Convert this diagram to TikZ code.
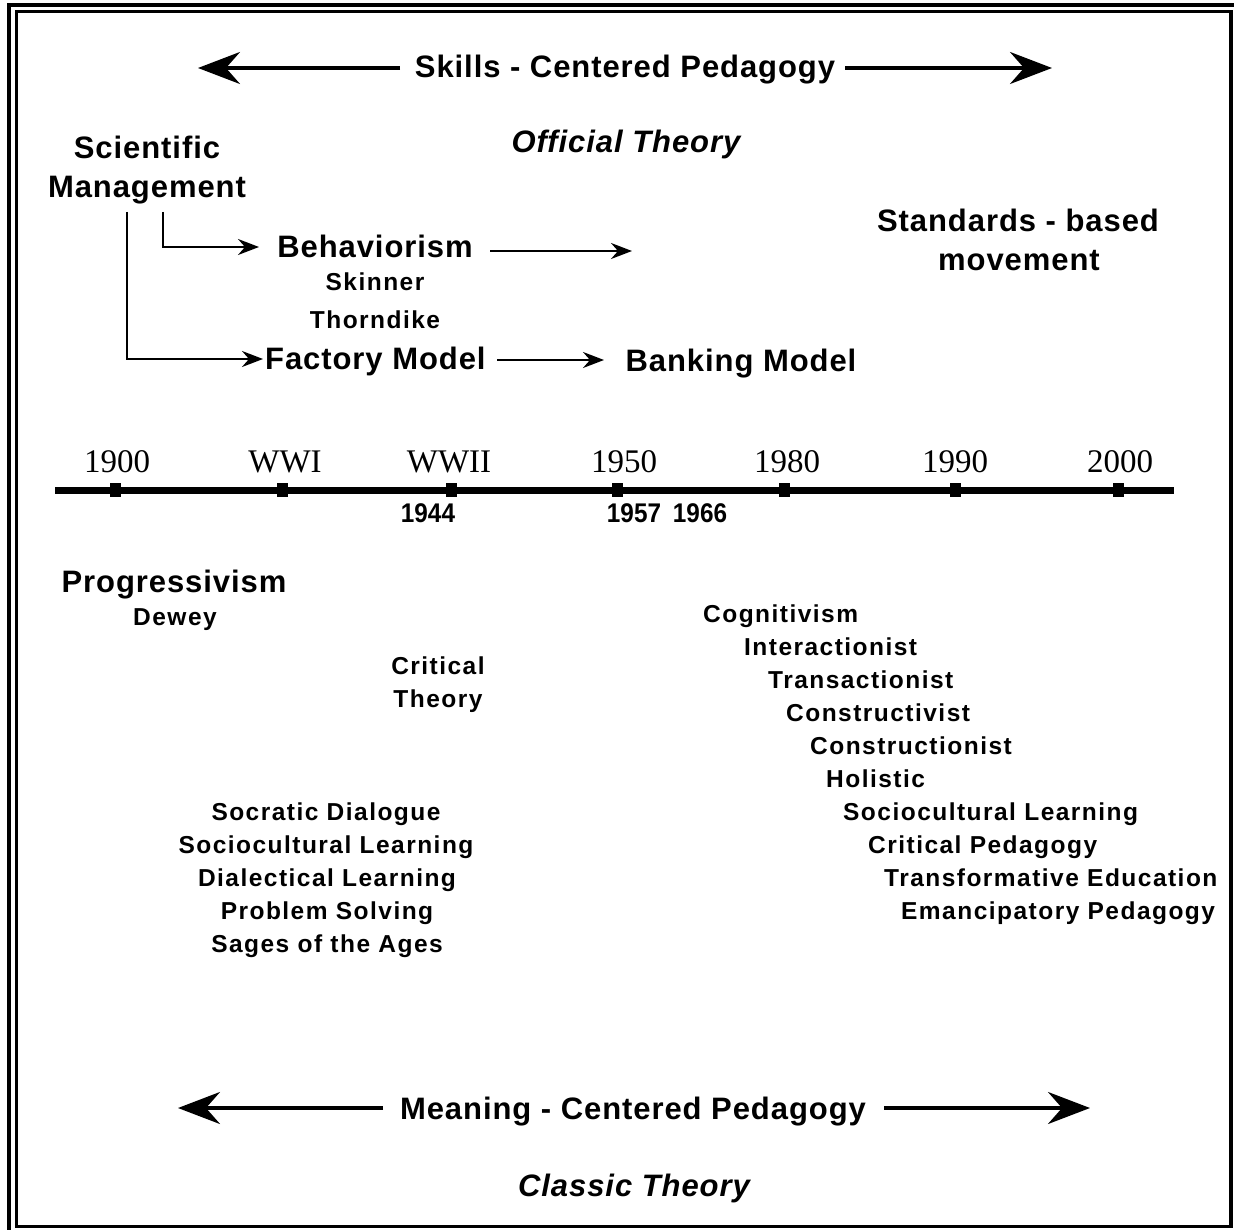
\documentclass[tikz,border=0pt]{standalone}
\usepackage{fontspec}
\setmainfont{Liberation Sans}
\newfontfamily\bigf{Liberation Sans}[LetterSpace=3]
\newfontfamily\smallf{Liberation Sans}[LetterSpace=6]
\newfontfamily\narrowf{Liberation Sans}
\newfontfamily\yearf{Liberation Serif}
\usetikzlibrary{arrows.meta}
\tikzset{
  big/.style={font=\bigf\bfseries\fontsize{31}{37}\selectfont, inner sep=0pt, align=center},
  bigit/.style={font=\bigf\bfseries\itshape\fontsize{31}{37}\selectfont, inner sep=0pt},
  small/.style={font=\smallf\bfseries\fontsize{24.5}{33}\selectfont, inner sep=0pt, align=center},
  yearlab/.style={font=\yearf\fontsize{33}{38}\selectfont, inner sep=0pt},
  sublab/.style={font=\narrowf\bfseries\fontsize{27}{30}\selectfont, inner sep=0pt},
  bigarr/.style={line width=3.5pt, -{Stealth[length=42pt,width=32pt,inset=14pt]}},
  smallarr/.style={line width=2.3pt, -{Stealth[length=21pt,width=16pt,inset=7pt]}},
  tickmark/.style={fill=black},
}
\begin{document}
\begin{tikzpicture}[x=1pt,y=-1pt]
\useasboundingbox (0,0) rectangle (1234,1230);
\fill[white] (0,0) rectangle (1234,1230);
% frame
\draw[line width=4pt] (9,1230) -- (9,4.7) -- (1234,4.7);
\draw[line width=3.5pt] (16.5,11.5) rectangle (1231,1226.5);

% top arrow
\node[big, anchor=base] (skills) at (625,78) {Skills - Centered Pedagogy};
\coordinate (skA) at (400,68);
\coordinate (skL) at (198,68);
\coordinate (skB) at (845,68);
\coordinate (skR) at (1052,68);
\draw[bigarr] (skA) -- (skL);
\draw[bigarr] (skB) -- (skR);
\node[bigit, anchor=base] (official) at (626,153) {Official Theory};

% upper labels
\node[big, anchor=base] (sci1) at (147,159) {Scientific};
\node[big, anchor=base] (sci2) at (147,198) {Management};
\node[big, anchor=base] (behav) at (375,258) {Behaviorism};
\node[small, anchor=base] (skinner) at (375,291) {Skinner};
\node[small, anchor=base] (thorn) at (375,329) {Thorndike};
\node[big, anchor=base west] (factory) at (265,370) {Factory Model};
\node[big, anchor=base] (banking) at (741,372) {Banking Model};
\node[big, anchor=base] (stand1) at (1018,232) {Standards - based};
\node[big, anchor=base] (stand2) at (1019,271) {movement};

% connectors
\coordinate (c1a) at (163,212);
\coordinate (c1b) at (163,247);
\coordinate (c1c) at (259,247);
\draw[smallarr] (c1a) -- (c1b) -- (c1c);
\coordinate (c2a) at (127,212);
\coordinate (c2b) at (127,359);
\coordinate (c2c) at (263,359);
\draw[smallarr] (c2a) -- (c2b) -- (c2c);
\coordinate (b1) at (490,251);
\coordinate (b2) at (632,251);
\draw[smallarr] (b1) -- (b2);
\coordinate (f1) at (497,360);
\coordinate (f2) at (604,360);
\draw[smallarr] (f1) -- (f2);

% timeline
\coordinate (tlA) at (55,490);
\coordinate (tlB) at (1174,490);
\draw[line width=7pt] (tlA) -- (tlB);
\foreach \x in {115,282,451,617,784,955,1118}{
  \fill[tickmark] (\x-5.5,483) rectangle (\x+5.5,497);
}
\node[yearlab, anchor=base] (y1900) at (117,472) {1900};
\node[yearlab, anchor=base] (ywwi) at (285,472) {WWI};
\node[yearlab, anchor=base] (ywwii) at (449,472) {WWII};
\node[yearlab, anchor=base] (y1950) at (624,472) {1950};
\node[yearlab, anchor=base] (y1980) at (787,472) {1980};
\node[yearlab, anchor=base] (y1990) at (955,472) {1990};
\node[yearlab, anchor=base] (y2000) at (1120,472) {2000};
\node[sublab, anchor=base] (y1944) at (428,522) {\scalebox{0.9}[1]{1944}};
\node[sublab, anchor=base] (y1957) at (634,522) {\scalebox{0.9}[1]{1957}};
\node[sublab, anchor=base] (y1966) at (700,522) {\scalebox{0.9}[1]{1966}};

% lower left
\node[big, anchor=base] (prog) at (174,592) {Progressivism};
\node[small, anchor=base] (dewey) at (175,625) {Dewey};
\node[small, anchor=base] (crit1) at (438,674) {Critical};
\node[small, anchor=base] (crit2) at (438,707) {Theory};
\node[small, anchor=base] (l1) at (326,820) {Socratic Dialogue};
\node[small, anchor=base] (l2) at (326,853) {Sociocultural Learning};
\node[small, anchor=base] (l3) at (327,886) {Dialectical Learning};
\node[small, anchor=base] (l4) at (327,919) {Problem Solving};
\node[small, anchor=base] (l5) at (327,952) {Sages of the Ages};

% lower right
\node[small, anchor=base west] (r1) at (703,622) {Cognitivism};
\node[small, anchor=base west] (r2) at (744,655) {Interactionist};
\node[small, anchor=base west] (r3) at (768,688) {Transactionist};
\node[small, anchor=base west] (r4) at (786,721) {Constructivist};
\node[small, anchor=base west] (r5) at (810,754) {Constructionist};
\node[small, anchor=base west] (r6) at (826,787) {Holistic};
\node[small, anchor=base west] (r7) at (843,820) {Sociocultural Learning};
\node[small, anchor=base west] (r8) at (868,853) {Critical Pedagogy};
\node[small, anchor=base west] (r9) at (884,886) {Transformative Education};
\node[small, anchor=base west] (r10) at (901,919) {Emancipatory Pedagogy};

% bottom arrow
\node[big, anchor=base] (meaning) at (633,1119) {Meaning - Centered Pedagogy};
\coordinate (mA) at (383,1108);
\coordinate (mL) at (178,1108);
\coordinate (mB) at (884,1108);
\coordinate (mR) at (1090,1108);
\draw[bigarr] (mA) -- (mL);
\draw[bigarr] (mB) -- (mR);
\node[bigit, anchor=base] (classic) at (634,1196) {Classic Theory};
\end{tikzpicture}
\end{document}
